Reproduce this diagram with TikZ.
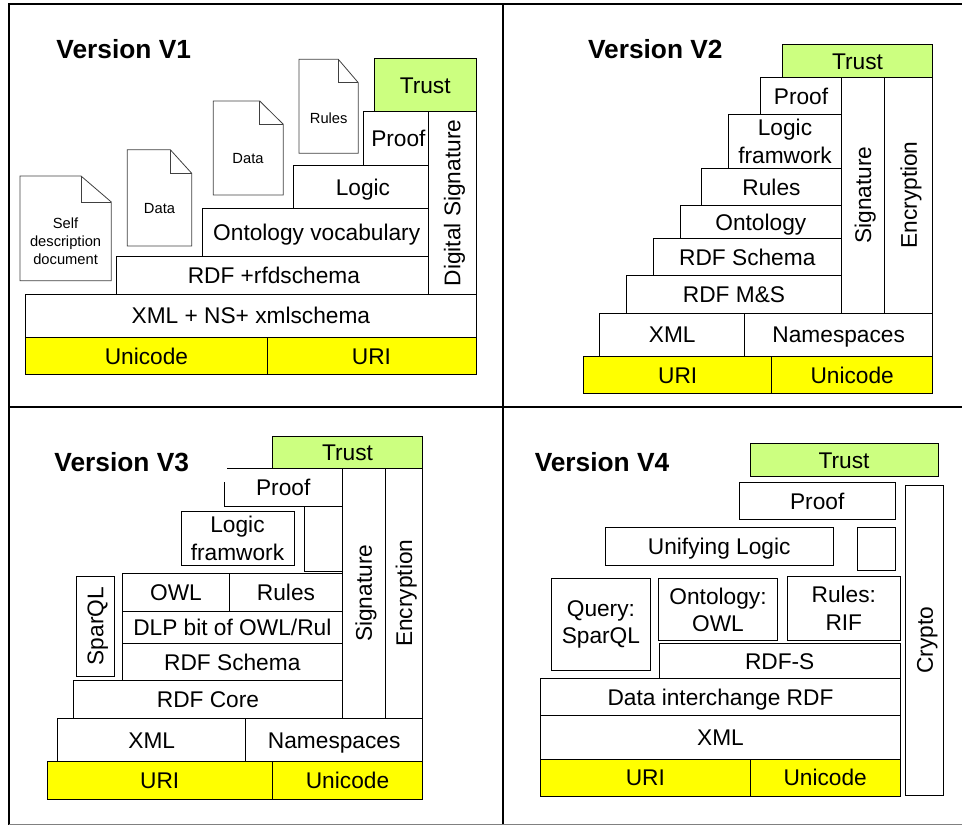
\documentclass[tikz,border=0pt]{standalone}
\usepackage{fontspec}
\setmainfont{Liberation Sans}
\definecolor{trustgreen}{RGB}{204,255,128}
\definecolor{baseyellow}{RGB}{255,255,0}
\begin{document}
\begin{tikzpicture}[x=1pt, y=-1pt]
        \tikzset{dims/.style 2 args={minimum width=#1pt, minimum height=#2pt}}
        \tikzstyle{stack}=[draw=black, line width=1pt, inner sep=0pt, align=center, font=\fontsize{22.7}{27.5}\selectfont]
        \tikzstyle{layer}=[stack, text height=16.5pt, text depth=0pt]
        \tikzstyle{upright}=[layer, rotate=90]
        \tikzstyle{base}=[layer, fill=baseyellow]
        \tikzstyle{trust}=[layer, fill=trustgreen]
        \tikzstyle{title}=[inner sep=0pt, font=\fontsize{26.3}{30}\selectfont\bfseries]
        \tikzstyle{frame}=[line width=2pt, line cap=rect]
        \useasboundingbox (0,0) rectangle (962,825);

        % Frame
        \draw [frame] (9,4) -- (962,4);
        \draw [frame] (9,407) -- (962,407);
        \draw [frame] (9,4) -- (9,825);
        \draw [frame] (503,4) -- (503,825);
        \draw [line width=1pt, gray] (9,824.3) -- (962,824.3);

        % Version V1
        \draw node at (123.7, 49) [title] (v1_title) {Version V1};

        \draw node at (146.4, 356) [base, dims={241.3}{37.4}] (v1_unicode) {Unicode};
        \draw node at (371.5, 356) [base, dims={209}{37.4}] (v1_uri) {URI};
        \draw node at (250.9, 315.7) [layer, dims={450.3}{43.3}] (v1_xml) {XML + NS+ xmlschema};
        \draw node at (272.4, 275.4) [layer, dims={311.3}{37.3}] (v1_rdf) {\hspace*{3pt}RDF +rfdschema};
        \draw node at (315.2, 232.7) [layer, dims={225.7}{48}] (v1_ontology) {\hspace*{3pt}Ontology vocabulary};
        \draw node at (360.9, 187) [layer, dims={134.3}{43.4}] (v1_logic) {\hspace*{4pt}Logic};
        \draw node at (395.9, 138.5) [layer, dims={64.3}{53.6}] (v1_proof) {\hspace*{5pt}Proof};
        \draw node at (452, 202.9) [upright, dims={182.3}{48}] (v1_signature) {Digital Signature};
        \draw node at (425.2, 84.9) [trust, dims={101.7}{53.7}] (v1_trust) {Trust};

        % Documents
        \foreach \name/\xa/\xb/\ya/\yb/\fx/\fy/\cx/\cy/\txt in {
            self/20/111.3/176/280.7/81/202/65.6/241/{Self\\description\\document},
            data_0/127.3/191.7/149.7/246/170.3/173.3/159.5/209/{Data},
            data_1/213.3/283.3/101/195/259.7/124.3/248/159/{Data},
            rules/299/358.3/59.3/153.3/338.3/82.7/328.7/118/{Rules}} {
            \draw [line width=.8pt, draw=black!75, line join=miter] (\xa,\ya) -- (\fx,\ya) -- (\xb,\fy) -- (\xb,\yb) -- (\xa,\yb) -- cycle;
            \draw [line width=.8pt, draw=black!75] (\fx,\ya) -- (\fx,\fy) -- (\xb,\fy);
            \node at (\cx,\cy) [inner sep=0pt, align=center, font=\fontsize{14.7}{18}\selectfont] (doc_\name) {\txt};
        }

        % Version V2
        \draw node at (655.3, 49) [title] (v2_title) {Version V2};

        \draw node at (677.7, 374.9) [base, dims={188}{37.7}] (v2_uri) {URI};
        \draw node at (852.2, 374.9) [base, dims={161}{37.7}] (v2_unicode) {Unicode};
        \draw node at (672.2, 334.5) [layer, dims={145}{43}] (v2_xml) {XML};
        \draw node at (838.7, 334.5) [layer, dims={188}{43}] (v2_namespaces) {Namespaces};
        \draw node at (734, 294.4) [layer, dims={214.6}{37.3}] (v2_rdfms) {RDF M\&S};
        \draw node at (747.3, 256.9) [layer, dims={188}{37.7}] (v2_schema) {RDF Schema};
        \draw node at (760.8, 221.9) [layer, dims={161}{32.3}] (v2_ontology) {Ontology};
        \draw node at (771.5, 187) [layer, dims={139.6}{37.4}] (v2_rules) {Rules};
        \draw node at (785, 141.5) [stack, dims={112.6}{53.6}] (v2_logic) {Logic\\framwork};
        \draw node at (801, 95.9) [layer, dims={80.6}{37.7}] (v2_proof) {Proof};
        \draw node at (857.5, 60.9) [trust, dims={150.4}{32.3}] (v2_trust) {Trust};
        \draw node at (862.8, 195) [upright, dims={236}{43}] (v2_signature) {Signature};
        \draw node at (908.5, 195) [upright, dims={236}{48.4}] (v2_encryption) {Encryption};

        % Version V3
        \draw node at (121.7, 461.7) [title] (v3_title) {Version V3};

        \draw node at (159.7, 780.2) [base, dims={225.3}{37.7}] (v3_uri) {URI};
        \draw node at (347.5, 780.2) [base, dims={150.4}{37.7}] (v3_unicode) {Unicode};
        \draw node at (151.7, 739.8) [layer, dims={188}{43}] (v3_xml) {XML};
        \draw node at (334.2, 739.8) [layer, dims={177}{43}] (v3_namespaces) {Namespaces};
        \draw node at (208, 699.5) [layer, dims={268.6}{37.6}] (v3_core) {RDF Core};
        \draw node at (232.3, 662) [layer, dims={220}{37.4}] (v3_schema) {RDF Schema};
        \draw node at (232.3, 627.2) [layer, dims={220}{32.3}] (v3_dlp) {DLP bit of OWL/Rul};
        \draw node at (176, 592.2) [layer, dims={107.4}{37.7}] (v3_owl) {OWL};
        \draw node at (286, 592.2) [layer, dims={112.6}{37.7}] (v3_rules) {Rules};
        \draw node at (95.2, 626.2) [upright, dims={99.7}{37.7}] (v3_sparql) {SparQL};
        \draw node at (237.5, 538.5) [stack, dims={113}{53.6}] (v3_logic) {Logic\\framwork};
        \draw node at (323.5, 539) [layer, dims={37.6}{64.6}] (v3_blank) {};
        \draw node at (283.2, 487.2) [layer, draw=none, dims={118.3}{37.7}] (v3_proof) {Proof};
        \draw [line width=1pt] (227,468.3) -- (342.3,468.3) -- (342.3,506) -- (224,506) -- (224,482.3);
        \draw node at (347.5, 452.5) [trust, dims={150.4}{31.6}] (v3_trust) {Trust};
        \draw node at (363.7, 593.3) [upright, dims={250}{42.7}] (v3_signature) {Signature};
        \draw node at (403.9, 593.3) [upright, dims={250}{37.7}] (v3_encryption) {Encryption};

        % Version V4
        \draw node at (602, 461.7) [title] (v4_title) {Version V4};

        \draw node at (645.4, 777.5) [base, dims={209.3}{37}] (v4_uri) {URI};
        \draw node at (825.2, 777.5) [base, dims={150.3}{37}] (v4_unicode) {Unicode};
        \draw node at (720.5, 737.4) [layer, dims={359.6}{43.3}] (v4_xml) {XML};
        \draw node at (720.5, 697) [layer, dims={359.6}{37.4}] (v4_data) {Data interchange RDF};
        \draw node at (779.7, 660.8) [layer, dims={241.3}{35}] (v4_rdfs) {RDF-S};
        \draw node at (718, 609.7) [stack, dims={118.6}{62}] (v4_ontology) {Ontology:\\OWL};
        \draw node at (843.8, 608.5) [stack, dims={113}{64.4}] (v4_rules) {Rules:\\RIF};
        \draw node at (600.9, 624.4) [stack, dims={98.3}{91.3}] (v4_query) {Query:\\SparQL};
        \draw node at (719.2, 546.5) [layer, dims={228.3}{37.6}] (v4_logic) {Unifying Logic};
        \draw node at (876.2, 549.2) [layer, dims={37.7}{43}] (v4_blank) {};
        \draw node at (817.2, 501) [layer, dims={155.7}{37.4}] (v4_proof) {Proof};
        \draw node at (844, 459.9) [trust, dims={188}{32.3}] (v4_trust) {Trust};
        \draw node at (924.5, 640.4) [upright, dims={310.7}{37.6}] (v4_crypto) {Crypto};
\end{tikzpicture}
\end{document}
